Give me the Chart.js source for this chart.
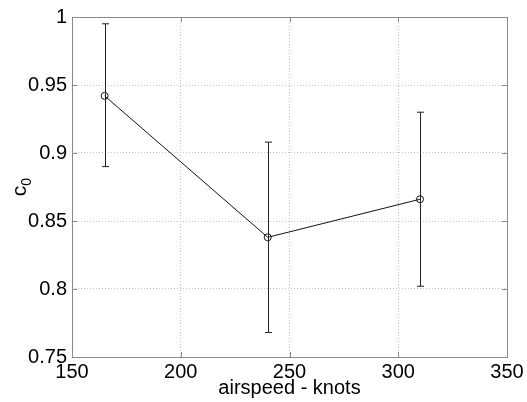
<!DOCTYPE html>
<html>
<head>
<meta charset="utf-8">
<script src="https://cdn.jsdelivr.net/npm/chart.js@4/dist/chart.umd.min.js"></script>
<style>
html,body{margin:0;padding:0;background:#fff;}
#wrap{width:527px;height:402px;position:relative;}
</style>
</head>
<body>
<div id="wrap"><canvas id="c" width="527" height="402"></canvas></div>
<script>
const airspeed = [165, 240, 310];
const c0 = [0.942, 0.838, 0.866];
const errUpper = [0.995, 0.908, 0.930];
const errLower = [0.890, 0.768, 0.802];
const xTickLabels = ['150', '200', '250', '300', '350'];
const yTickLabels = ['0.75', '0.8', '0.85', '0.9', '0.95', '1'];
const xTitle = 'airspeed - knots';
const yTitleMain = 'c';
const yTitleSub = '0';

const FONT = '"Liberation Sans", Arial, Helvetica, sans-serif';

const framePlugin = {
  id: 'frameAndErrors',
  afterDatasetsDraw(chart) {
    const {ctx, chartArea: a, scales: {x, y}} = chart;
    ctx.save();
    // error bars
    ctx.strokeStyle = '#222';
    ctx.lineWidth = 1;
    for (let i = 0; i < airspeed.length; i++) {
      const px = Math.round(x.getPixelForValue(airspeed[i])) + 0.5;
      const pt = y.getPixelForValue(errUpper[i]);
      const pb = y.getPixelForValue(errLower[i]);
      ctx.beginPath();
      ctx.moveTo(px, pt); ctx.lineTo(px, pb);
      ctx.moveTo(px - 3.5, pt); ctx.lineTo(px + 3.5, pt);
      ctx.moveTo(px - 3.5, pb); ctx.lineTo(px + 3.5, pb);
      ctx.stroke();
    }
    // frame
    ctx.strokeStyle = '#8a8a8a';
    ctx.lineWidth = 1;
    ctx.strokeRect(Math.round(a.left) + 0.5, Math.round(a.top) + 0.5,
                   Math.round(a.right - a.left), Math.round(a.bottom - a.top));
    // inward ticks
    const tl = 5;
    ctx.beginPath();
    y.ticks.forEach(t => {
      const py = Math.round(y.getPixelForValue(t.value)) + 0.5;
      ctx.moveTo(a.left, py); ctx.lineTo(a.left + tl, py);
      ctx.moveTo(a.right, py); ctx.lineTo(a.right - tl, py);
    });
    x.ticks.forEach(t => {
      const px = Math.round(x.getPixelForValue(t.value)) + 0.5;
      ctx.moveTo(px, a.bottom); ctx.lineTo(px, a.bottom - tl);
      ctx.moveTo(px, a.top); ctx.lineTo(px, a.top + tl);
    });
    ctx.stroke();
    // y title c0 (rotated)
    ctx.fillStyle = '#000';
    ctx.translate(22, (a.top + a.bottom) / 2);
    ctx.rotate(-Math.PI / 2);
    ctx.font = '21px ' + FONT;
    ctx.textBaseline = 'alphabetic';
    ctx.textAlign = 'left';
    const wC = ctx.measureText(yTitleMain).width;
    ctx.font = '14px ' + FONT;
    const wS = ctx.measureText(yTitleSub).width;
    const start = -(wC + wS) / 2;
    ctx.font = '21px ' + FONT;
    ctx.fillText(yTitleMain, start, 4);
    ctx.font = '14px ' + FONT;
    ctx.fillText(yTitleSub, start + wC, 9);
    ctx.restore();
  }
};

new Chart(document.getElementById('c'), {
  type: 'scatter',
  data: {
    datasets: [{
      data: airspeed.map((v, i) => ({x: v, y: c0[i]})),
      showLine: true,
      borderColor: '#111',
      borderWidth: 1,
      backgroundColor: 'rgba(0,0,0,0)',
      pointStyle: 'circle',
      pointRadius: 3.5,
      pointBorderColor: '#111',
      pointBorderWidth: 1,
      pointBackgroundColor: 'rgba(0,0,0,0)',
      tension: 0
    }]
  },
  options: {
    responsive: false,
    animation: false,
    devicePixelRatio: 1,
    layout: {padding: {top: 17, right: 20, left: 0, bottom: 0}},
    plugins: {legend: {display: false}, tooltip: {enabled: false}},
    scales: {
      x: {
        type: 'linear', min: 150, max: 350,
        afterFit(s) { s.height = 45; },
        ticks: {
          stepSize: 50, color: '#000', padding: 3, maxRotation: 0,
          font: {family: FONT, size: 20},
          callback: (v, i) => xTickLabels[i]
        },
        grid: {color: '#c4c4c4', lineWidth: 1, drawTicks: false},
        border: {display: false, dash: [1, 2]},
        title: {display: true, text: xTitle, color: '#000', font: {family: FONT, size: 20}, padding: {top: 0, bottom: 2}}
      },
      y: {
        type: 'linear', min: 0.75, max: 1,
        afterFit(s) { s.width = 72; },
        ticks: {
          stepSize: 0.05, color: '#000', padding: 5,
          font: {family: FONT, size: 20},
          callback: (v, i) => yTickLabels[i]
        },
        grid: {color: '#c4c4c4', lineWidth: 1, drawTicks: false},
        border: {display: false, dash: [1, 2]}
      }
    }
  },
  plugins: [framePlugin]
});
</script>
</body>
</html>
